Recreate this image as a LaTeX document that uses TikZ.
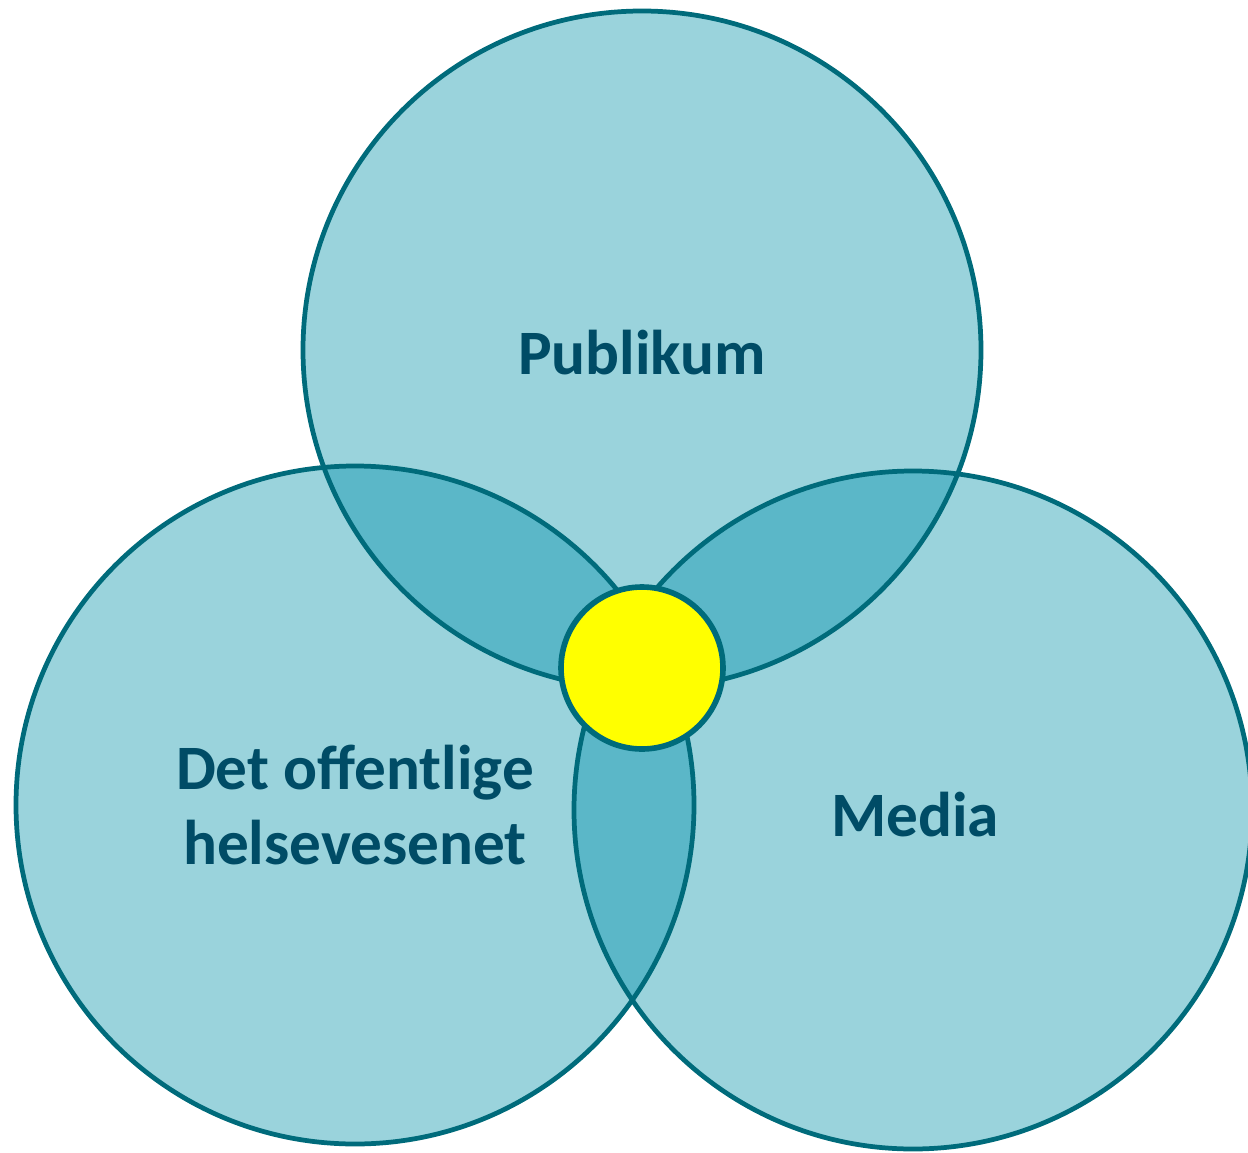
\documentclass[tikz,border=0pt]{standalone}
\usepackage{fontspec}
\setmainfont{Carlito}
\definecolor{light}{HTML}{9AD3DC}
\definecolor{dark}{HTML}{5BB7C8}
\definecolor{edge}{HTML}{006B7B}
\definecolor{txt}{HTML}{004C66}
\definecolor{sun}{RGB}{255,255,0}
\begin{document}
\begin{tikzpicture}[x=0.02cm,y=-0.02cm,
  ring/.style={draw=edge,line width=2.7pt},
  lab/.style={text=txt,font=\fontsize{36}{43}\selectfont\bfseries,align=center}]
\useasboundingbox (0,0) rectangle (1248,1153);
\coordinate (T) at (642,350);
\coordinate (L) at (355,805);
\coordinate (R) at (913,810);
\def\rr{339}
\fill[light] (T) circle (\rr) (L) circle (\rr) (R) circle (\rr);
\begin{scope}
  \clip (T) circle (\rr);
  \fill[dark] (L) circle (\rr) (R) circle (\rr);
\end{scope}
\begin{scope}
  \clip (L) circle (\rr);
  \fill[dark] (R) circle (\rr);
\end{scope}
\draw[ring] (T) circle (\rr);
\draw[ring] (L) circle (\rr);
\draw[ring] (R) circle (\rr);
\node[circle,draw=edge,line width=3.2pt,fill=sun,minimum size=162*0.02cm,inner sep=0pt] (C) at (642,668) {};
\node[lab] (pub) at (642,353) {Publikum};
\node[lab] (det) at (355,805) {Det offentlige\\helsevesenet};
\node[lab] (med) at (915,815) {Media};
\end{tikzpicture}
\end{document}
